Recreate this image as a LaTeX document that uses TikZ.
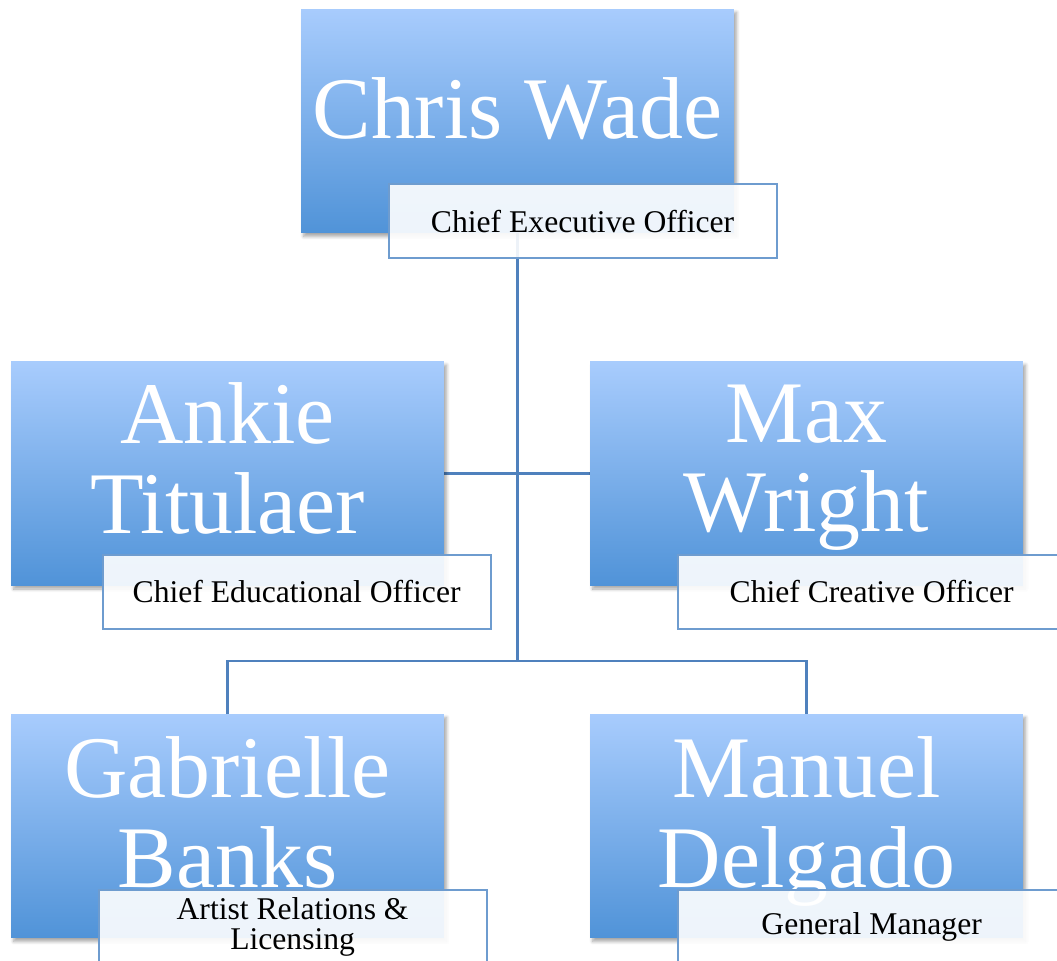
\documentclass[tikz,border=0pt]{standalone}
\usepackage{fontspec}
\setmainfont{Liberation Serif}
\usetikzlibrary{positioning, backgrounds, shadows.blur}

\definecolor{boxtop}{RGB}{168,204,253}
\definecolor{boxbot}{RGB}{80,147,216}
\definecolor{linkblue}{RGB}{79,129,189}
\definecolor{tagline}{RGB}{110,156,207}

\tikzset{
  namebox/.style={minimum width=8.66cm, minimum height=4.48cm, inner sep=0,
    top color=boxtop, bottom color=boxbot,
    blur shadow={shadow xshift=1.5pt, shadow yshift=-2pt, shadow blur steps=6, shadow opacity=35}},
  nametext/.style={inner sep=0, text=white, align=center, font=\fontsize{50}{51}\selectfont},
  titlebox/.style={minimum width=7.76cm, minimum height=1.48cm, inner sep=0,
    draw=tagline, line width=1.1pt, fill=white, fill opacity=0.9, text opacity=1,
    align=center, font=\fontsize{18}{17}\selectfont},
  link/.style={draw=linkblue, line width=1.3pt}
}

\begin{document}
\begin{tikzpicture}[x=0.02cm, y=-0.02cm]
\useasboundingbox (0,0) rectangle (1057,960);
\clip (0,0) rectangle (1057,960);

% Top
\node[namebox] (chris) at (517.5,121) {};
\node[nametext, below=1.38cm of chris.north] (chrisname) {Chris Wade};
\node[titlebox, below right=-1cm and 1.74cm of chris.south west] (chrisrole) {Chief Executive Officer};

% Middle row
\node[namebox] (ankie) at (227.5,473.5) {};
\node[nametext, below=0.42cm of ankie.north] (ankiename) {Ankie\\Titulaer};
\node[titlebox, below right=-0.64cm and 1.82cm of ankie.south west] (ankierole) {Chief Educational Officer};

\node[namebox] (max) at (806.5,473.5) {};
\node[nametext, below=0.46cm of max.north] (maxname) {Max\\Wright};
\node[titlebox, below right=-0.64cm and 1.74cm of max.south west] (maxrole) {Chief Creative Officer};

% Bottom row
\node[namebox] (gabrielle) at (227.5,826) {};
\node[nametext, below=0.46cm of gabrielle.north] (gabriellename) {Gabrielle\\Banks};
\node[titlebox, below right=-0.98cm and 1.74cm of gabrielle.south west] (gabriellerole) {Artist Relations \&\\Licensing};

\node[namebox] (manuel) at (806.5,826) {};
\node[nametext, below=0.46cm of manuel.north] (manuelname) {Manuel\\Delgado};
\node[titlebox, below right=-0.98cm and 1.74cm of manuel.south west] (manuelrole) {General Manager};

% Links
\coordinate (hub) at (517.5,661);
\begin{scope}[on background layer]
\draw[link] (chris.south) -- (hub);
\draw[link] (ankie.east) -- (max.west);
\draw[link] (gabrielle.north) |- (hub) -| (manuel.north);
\end{scope}

\end{tikzpicture}
\end{document}
